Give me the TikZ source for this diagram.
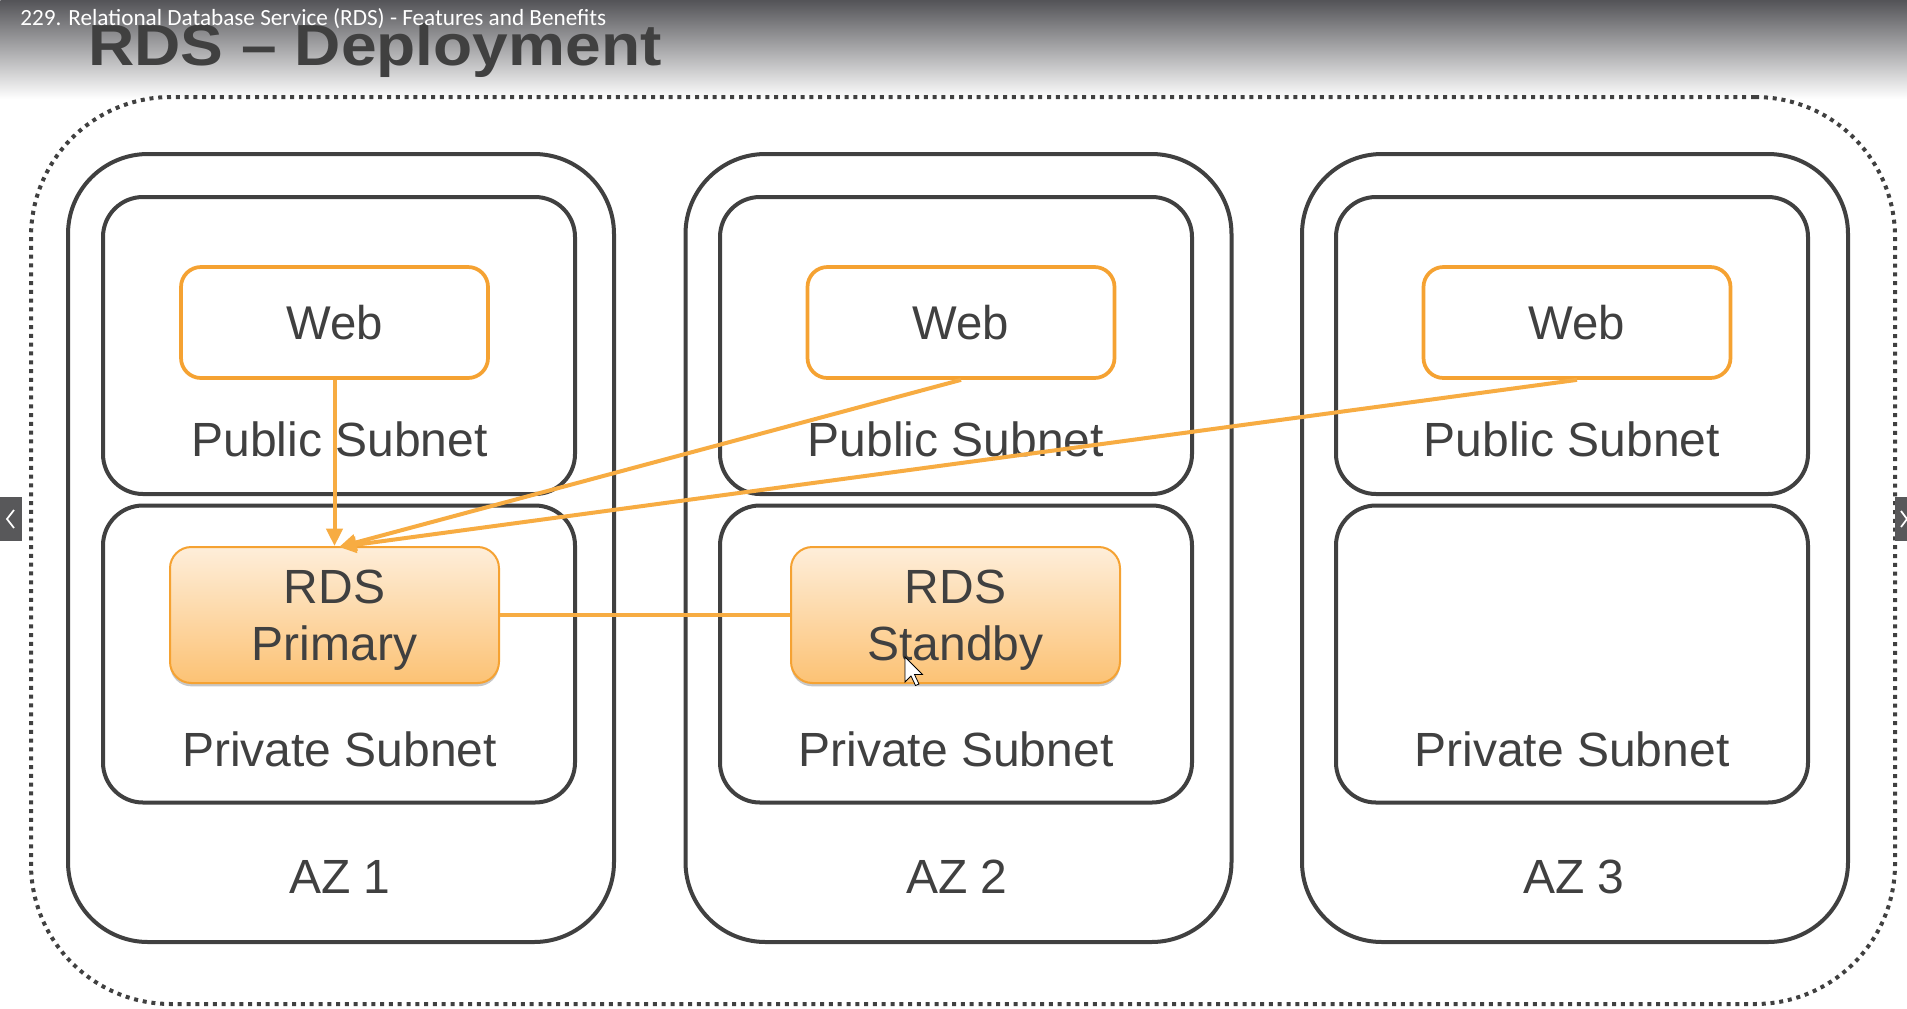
\documentclass[tikz,border=0pt]{standalone}
\usepackage{fontspec}
\usepackage{graphicx}
\setmainfont{Liberation Sans}
\newfontfamily\hdrfont{Carlito}
\usetikzlibrary{arrows.meta,shadows}
\definecolor{dg}{RGB}{64,64,64}
\definecolor{org}{RGB}{245,162,50}
\definecolor{orgline}{RGB}{247,172,66}
\definecolor{rdstop}{RGB}{254,238,218}
\definecolor{rdsbot}{RGB}{252,194,116}
\definecolor{hdr}{RGB}{84,84,88}
\definecolor{btn}{RGB}{88,88,90}
\begin{document}
\begin{tikzpicture}[x=0.75pt,y=-0.75pt,
  region/.style={draw=dg,line width=3pt,dash pattern=on 3pt off 3.6pt,rounded corners=105pt,
    minimum width=1398pt,minimum height=680.25pt,inner sep=0pt},
  azbox/.style={draw=dg,line width=3pt,rounded corners=60pt,minimum width=409.5pt,minimum height=591pt,inner sep=0pt},
  subbox/.style={draw=dg,line width=3pt,rounded corners=30pt,minimum width=354pt,minimum height=222.75pt,inner sep=0pt},
  webbox/.style={draw=org,fill=white,line width=2.8pt,rounded corners=15pt,minimum width=230.25pt,minimum height=83.25pt,inner sep=0pt,
    text=dg,font=\fontsize{35.5pt}{42pt}\selectfont},
  rdsbox/.style={draw=org,line width=1.5pt,rounded corners=16pt,minimum width=246.75pt,minimum height=102pt,inner sep=0pt,
    top color=rdstop,bottom color=rdsbot,
    drop shadow={shadow xshift=0pt,shadow yshift=-2.5pt,opacity=0.22,fill=black}},
  lbl/.style={text=dg,font=\fontsize{36pt}{42pt}\selectfont,anchor=base,inner sep=0pt},
  conn/.style={draw=orgline,line width=3pt},
  arr/.style={conn,-{Triangle[length=13pt,width=12pt]}},
]
\useasboundingbox (0,0) rectangle (1907,1008);
\fill[white] (0,0) rectangle (1907,1008);
% header gradient
\node[anchor=north west,minimum width=1430.25pt,minimum height=74pt,inner sep=0pt,
  top color=hdr,bottom color=white,draw=none] (hdrbar) at (0,0) {};
% title
\node[anchor=base west,inner sep=0pt,text=dg,font=\bfseries\fontsize{43.5pt}{50pt}\selectfont] (title) at (88,65)
  {\scalebox{1.105}[1]{RDS -- Deployment}};
\node[anchor=base west,inner sep=0pt,text=white,font=\hdrfont\fontsize{17.4pt}{20pt}\selectfont] (hdrtxt) at (20,25)
  {229. Relational Database Service (RDS) - Features and Benefits};

% outer region
\node[region] (reg) at (963,550.5) {};

% AZ boxes
\node[azbox] (az1) at (341,548) {};
\node[azbox] (az2) at (958.5,548) {};
\node[azbox] (az3) at (1575,548) {};

% subnets
\node[subbox] (pub1) at (339,345.5) {};
\node[subbox] (pub2) at (956,345.5) {};
\node[subbox] (pub3) at (1572,345.5) {};
\node[subbox] (prv1) at (339,654) {};
\node[subbox] (prv2) at (956,654) {};
\node[subbox] (prv3) at (1572,654) {};

% labels
\node[lbl] (publ1) at (339.5,456) {Public Subnet};
\node[lbl] (publ2) at (956,456) {Public Subnet};
\node[lbl] (publ3) at (1572,456) {Public Subnet};
\node[lbl] (prvl1) at (339.5,766) {Private Subnet};
\node[lbl] (prvl2) at (956,766) {Private Subnet};
\node[lbl] (prvl3) at (1572,766) {Private Subnet};
\node[lbl] (azl1) at (340,893) {AZ 1};
\node[lbl] (azl2) at (957,893) {AZ 2};
\node[lbl] (azl3) at (1574,893) {AZ 3};

% web boxes
\node[webbox] (web1) at (334.5,322.5) {Web};
\node[webbox] (web2) at (961,322.5) {Web};
\node[webbox] (web3) at (1577,322.5) {Web};

% rds boxes
\node[rdsbox] (rds1) at (334.5,615) {};
\node[rdsbox] (rds2) at (955.5,615) {};
\node[lbl] (rds1a) at (334.5,603) {RDS};
\node[lbl] (rds1b) at (334.5,660) {Primary};
\node[lbl] (rds2a) at (955.5,603) {RDS};
\node[lbl] (rds2b) at (955.5,660) {Standby};

% connectors
\coordinate (tip) at (339,547);
\draw[arr] (web1.south) -- (rds1.north);
\draw[arr] (web2.south) -- (tip);
\draw[arr] (web3.south) -- (tip);
\draw[conn] (rds1.east) -- (rds2.west);

% mouse cursor
\draw[black,fill=white,line width=0.6pt,line join=miter]
  (905,657) -- ++(0,25) -- ++(6,-6) -- ++(4.5,9.5) -- ++(3.5,-1.5) -- ++(-4.5,-9.5) -- ++(8,0) -- cycle;

% side buttons
\fill[btn] (0,497) rectangle (22,541);
\draw[white,line width=1.3pt] (14,510) -- (7,519) -- (14,528);
\fill[btn] (1895,497) rectangle (1907,541);
\draw[white,line width=1.3pt] (1901,511) -- (1907,519) -- (1901,527);
\end{tikzpicture}
\end{document}
